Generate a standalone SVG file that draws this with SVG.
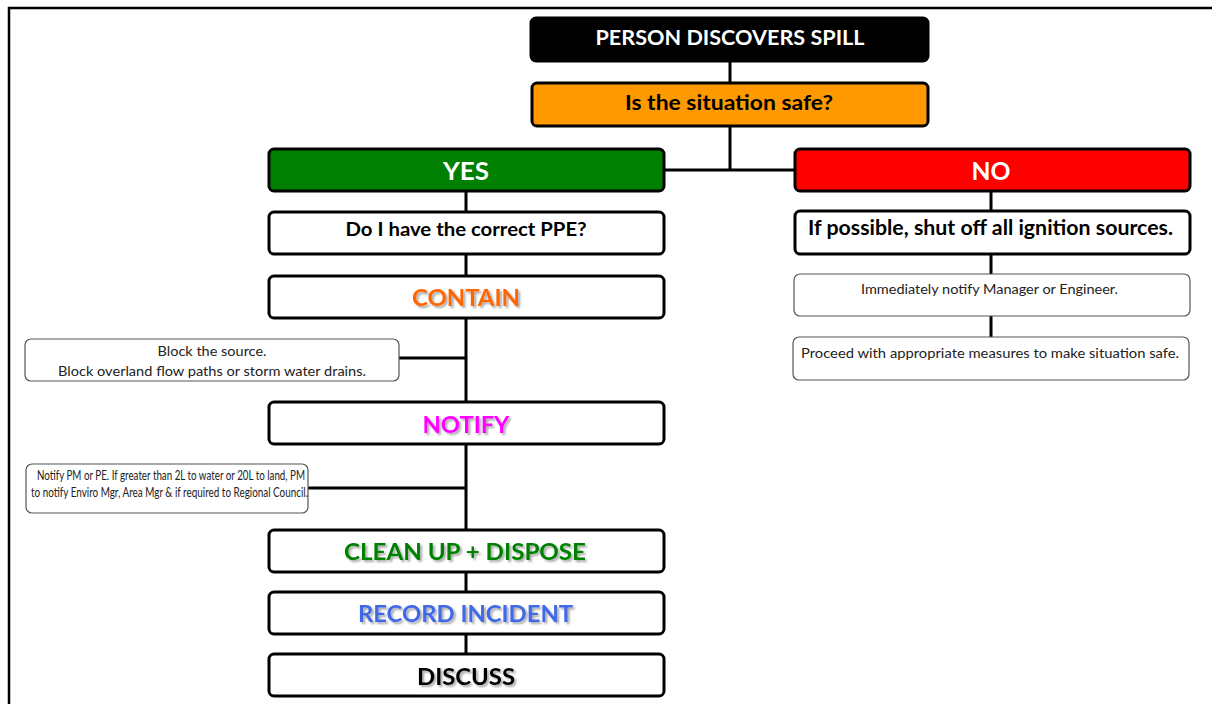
<svg xmlns="http://www.w3.org/2000/svg" width="1212" height="704" viewBox="0 0 1212 704">
<defs>
<filter id="sh" x="-10%" y="-30%" width="120%" height="160%">
<feGaussianBlur in="SourceAlpha" stdDeviation="1.2"/>
<feOffset dx="1.5" dy="1.5" result="b"/>
<feComponentTransfer><feFuncA type="linear" slope="0.35"/></feComponentTransfer>
<feMerge><feMergeNode/><feMergeNode in="SourceGraphic"/></feMerge>
</filter>
</defs>
<style>
.bx{stroke:#000;stroke-width:3}
.th{fill:#fff;stroke:#555;stroke-width:1.2}
.t{font-family:Lato,"Open Sans",sans-serif;font-weight:bold;text-anchor:middle;dominant-baseline:central}
.s{font-family:Lato,"Open Sans",sans-serif;font-size:13.5px;text-anchor:middle;fill:#222}
.n{font-size:13px}
.c{stroke:#000;stroke-width:3;fill:none}
</style>
<rect width="1212" height="704" fill="#fff"/>
<path d="M9 704 V8 H1212" fill="none" stroke="#000" stroke-width="2.5"/>
<g id="connectors">
<path class="c" d="M730 61 V82 M730 126 V170 M664 170 H794 M466 191 V211 M466 254 V275 M466 318 V401 M399 358 H466 M466 444 V529 M308 488 H466 M466 572 V591 M466 634 V653 M991 191 V210 M991 254 V274 M991 316 V337"/>
</g>
<g id="n-start"><rect class="bx" x="531" y="18" width="397" height="43" rx="5" fill="#000"/><text class="t" x="730" y="37" font-size="20" fill="#fff" textLength="269" lengthAdjust="spacingAndGlyphs">PERSON DISCOVERS SPILL</text></g>
<g id="n-safe"><rect class="bx" x="532" y="83" width="396" height="43" rx="5" fill="#FF9900"/><text class="t" x="729" y="101" font-size="21" fill="#000" textLength="208" lengthAdjust="spacingAndGlyphs">Is the situation safe?</text></g>
<g id="n-yes"><rect class="bx" x="269" y="149" width="395" height="42" rx="5" fill="#008000"/><text class="t" x="466" y="170" font-size="25" fill="#fff" textLength="46" lengthAdjust="spacingAndGlyphs">YES</text></g>
<g id="n-no"><rect class="bx" x="795" y="149" width="395" height="42" rx="5" fill="#FF0000"/><text class="t" x="991" y="170" font-size="25" fill="#fff" textLength="39" lengthAdjust="spacingAndGlyphs">NO</text></g>
<g id="n-ppe"><rect class="bx" x="269" y="212" width="395" height="42" rx="5" fill="#fff"/><text class="t" x="466" y="228" font-size="19" fill="#000" textLength="241" lengthAdjust="spacingAndGlyphs">Do I have the correct PPE?</text></g>
<g id="n-contain"><rect class="bx" x="269" y="276" width="395" height="42" rx="5" fill="#fff"/><text class="t" x="466" y="297" font-size="23" fill="#FF6600" filter="url(#sh)" textLength="108" lengthAdjust="spacingAndGlyphs">CONTAIN</text></g>
<g id="n-block"><rect class="th" x="25" y="339" width="374" height="42" rx="6"/><text class="s" x="212" y="356" textLength="109" lengthAdjust="spacingAndGlyphs">Block the source.</text><text class="s" x="212" y="376" textLength="308" lengthAdjust="spacingAndGlyphs">Block overland flow paths or storm water drains.</text></g>
<g id="n-notify"><rect class="bx" x="269" y="402" width="395" height="42" rx="5" fill="#fff"/><text class="t" x="466" y="424" font-size="23" fill="#FF00FF" filter="url(#sh)" textLength="87" lengthAdjust="spacingAndGlyphs">NOTIFY</text></g>
<g id="n-notifytxt"><rect class="th" x="26" y="464" width="282" height="49" rx="6"/><text class="s n" x="171" y="480" textLength="268" lengthAdjust="spacingAndGlyphs">Notify PM or PE. If greater than 2L to water or 20L to land, PM</text><text class="s n" x="169.5" y="497" textLength="277" lengthAdjust="spacingAndGlyphs">to notify Enviro Mgr, Area Mgr &amp; if required to Regional Council.</text></g>
<g id="n-clean"><rect class="bx" x="269" y="530" width="395" height="42" rx="5" fill="#fff"/><text class="t" x="465" y="551" font-size="23" fill="#008000" filter="url(#sh)" textLength="242" lengthAdjust="spacingAndGlyphs">CLEAN UP + DISPOSE</text></g>
<g id="n-record"><rect class="bx" x="269" y="592" width="395" height="42" rx="5" fill="#fff"/><text class="t" x="465.5" y="613" font-size="23" fill="#4169E8" filter="url(#sh)" textLength="215" lengthAdjust="spacingAndGlyphs">RECORD INCIDENT</text></g>
<g id="n-discuss"><rect class="bx" x="269" y="654" width="395" height="42" rx="5" fill="#fff"/><text class="t" x="466" y="676" font-size="23" fill="#000" filter="url(#sh)" textLength="98" lengthAdjust="spacingAndGlyphs">DISCUSS</text></g>
<g id="n-ignition"><rect class="bx" x="795" y="211" width="395" height="43" rx="5" fill="#fff"/><text class="t" x="990.5" y="227" font-size="20" fill="#000" textLength="365" lengthAdjust="spacingAndGlyphs">If possible, shut off all ignition sources.</text></g>
<g id="n-immediate"><rect class="th" x="794" y="274" width="396" height="42" rx="6"/><text class="s" x="989.5" y="294" textLength="257" lengthAdjust="spacingAndGlyphs">Immediately notify Manager or Engineer.</text></g>
<g id="n-proceed"><rect class="th" x="793" y="337" width="396" height="43" rx="6"/><text class="s" x="990" y="358" textLength="378" lengthAdjust="spacingAndGlyphs">Proceed with appropriate measures to make situation safe.</text></g>
</svg>
